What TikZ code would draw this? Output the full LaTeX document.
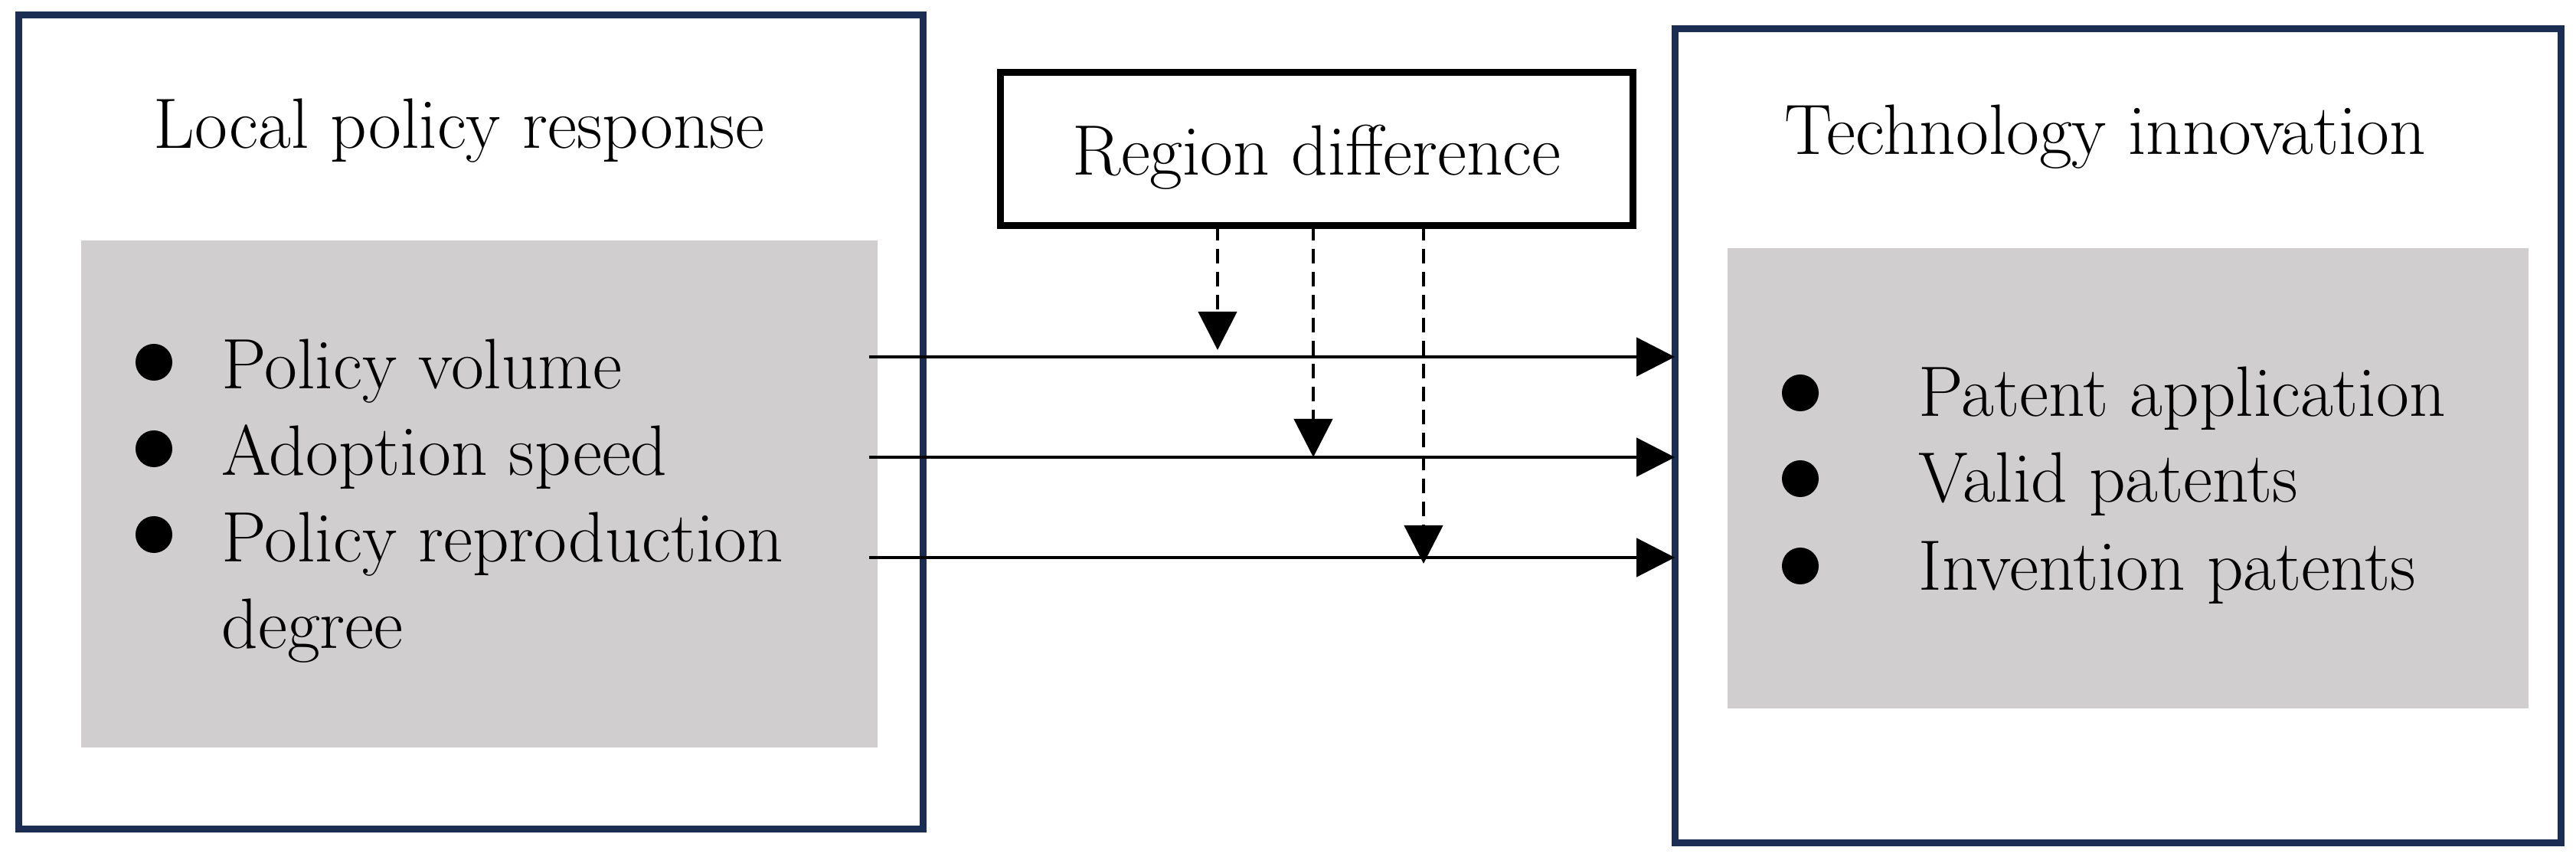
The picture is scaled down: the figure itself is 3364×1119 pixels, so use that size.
\documentclass[tikz,border=0pt]{standalone}
\usetikzlibrary{arrows.meta}
\definecolor{boxblue}{RGB}{27,45,82}
\definecolor{panelgray}{RGB}{208,206,207}
\tikzset{
  outerbox/.style={draw=boxblue, line width=2.55pt, outer sep=0pt, inner sep=0pt},
  panel/.style={fill=panelgray, outer sep=0pt, inner sep=0pt},
  regionbox/.style={draw=black, line width=2.55pt, outer sep=0pt, inner sep=0pt,
    text height=0.67cm, text depth=0cm, font=\fontsize{26.5}{32}\selectfont},
  txt/.style={inner sep=0pt, anchor=base west, font=\fontsize{26.5}{32}\selectfont},
  dot/.style={circle, fill=black, inner sep=0pt, minimum size=0.48cm},
  flow/.style={line width=1.28pt, -{Triangle[length=0.5cm,width=0.5cm]}},
  modflow/.style={flow, dash pattern=on 0.19cm off 0.11cm}
}
\begin{document}
\begin{tikzpicture}[x=0.01cm,y=-0.01cm]
	\useasboundingbox (0,0) rectangle (3364,1119);
	% outer boxes
	\node[outerbox, minimum width=11.81cm, minimum height=10.63cm] (lbox) at (615,551) {};
	\node[outerbox, minimum width=11.57cm, minimum height=10.627cm] (rbox) at (2766,569.15) {};
	% grey panels
	\node[panel, minimum width=10.4cm, minimum height=6.62cm] (lpanel) at (626,645) {};
	\node[panel, minimum width=10.46cm, minimum height=6.007cm] (rpanel) at (2779,624.35) {};
	% titles
	\node[txt] (ltitle) at (200,194) {Local policy response};
	\node[txt] (rtitle) at (2330,202) {Technology innovation};
	% moderator
	\node[regionbox, minimum width=8.26cm, minimum height=2cm] (region) at (1719.5,194.5) {Region difference};
	% left list
	\foreach \i/\y/\t in {1/508/Policy volume,2/621/Adoption speed,3/733/Policy reproduction}{
		\node[dot] (lb\i) at (201,\y-35) {};
		\node[txt] (li\i) at (289,\y) {\t};
	}
	\node[txt] (li4) at (289,846) {degree};
	% right list
	\foreach \i/\y/\t in {1/544/Patent application,2/656/Valid patents,3/770/Invention patents}{
		\node[dot] (rb\i) at (2351,\y-31) {};
		\node[txt] (ri\i) at (2505,\y) {\t};
	}
	% main effects
	\coordinate (s1) at (1135,466);
	\coordinate (s2) at (1135,597);
	\coordinate (s3) at (1135,728);
	\foreach \i in {1,2,3}
		\draw[flow] (s\i) -- (s\i -| rbox.west);
	% moderating effects
	\coordinate (m1) at (1590,457);
	\coordinate (m2) at (1715,597);
	\coordinate (m3) at (1859,736);
	\foreach \i in {1,2,3}
		\draw[modflow] (region.south -| m\i) -- (m\i);
\end{tikzpicture}
\end{document}
